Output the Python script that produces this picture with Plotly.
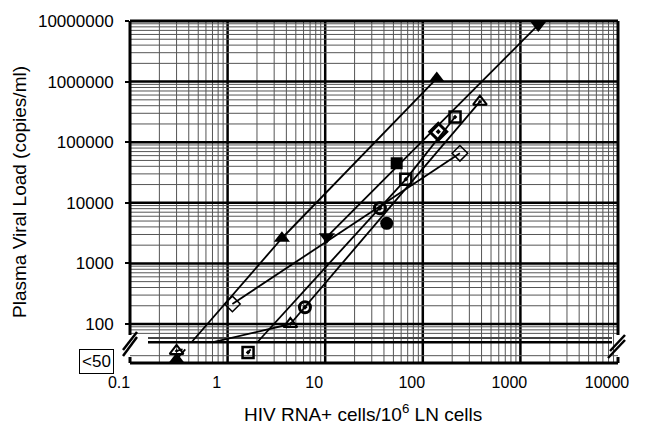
import numpy as np
import plotly.graph_objects as go

# ---------------- data ----------------
tri_up_filled_x = [0.3, 3.6, 139]
tri_up_filled_y = [26, 2600, 1130000]

tri_up_open_x = [0.3, 4.4, 385]
tri_up_open_y = [36, 100, 466000]

diamond_x = [1.12, 240]
diamond_y = [214, 65600]

diamond_dot_x = [144]
diamond_dot_y = [149000]

tri_down_x = [10.4, 1525]
tri_down_y = [2750, 8600000]

square_open_x = [1.62, 67, 214]
square_open_y = [34, 24400, 260000]

circle_open_x = [6.2, 36.4]
circle_open_y = [189, 8110]

square_filled_x = [54]
square_filled_y = [44900]

circle_filled_x = [42.7]
circle_filled_y = [4590]

x_tick_vals = [0.1, 1, 10, 100, 1000, 10000]
x_tick_text = ["0.1", "1", "10", "100", "1000", "10000"]
y_tick_vals = [100, 1000, 10000, 100000, 1000000, 10000000]
y_tick_text = ["100", "1000", "10000", "100000", "1000000", "10000000"]
below_label = "<50"
x_title = "HIV RNA+ cells/10<sup>6</sup> LN cells"
y_title = "Plasma Viral Load (copies/ml)"

# axis break band (values)
band_lo, band_hi = 38, 50
break_line2 = 58.7

# ---------------- helpers ----------------
W, H = 645, 427
ML, MR, MT, MB = 100, 20, 21, 64
PW, PH = W - ML - MR, H - MT - MB
X_LOG_RANGE = [-1, 4]
Y_LOG_RANGE = [1.3564, 7]


def px_x(p):
    return (p - ML) / PW


def px_y(p):
    return (H - MB - p) / PH


def clip_band(xs, ys):
    """Connect points, leaving out the part that falls inside the axis break band."""
    lx, ly = [], []
    blo, bhi = np.log10(band_lo), np.log10(band_hi)
    for i in range(len(xs) - 1):
        x0, y0 = np.log10(xs[i]), np.log10(ys[i])
        x1, y1 = np.log10(xs[i + 1]), np.log10(ys[i + 1])
        lo, hi = min(y0, y1), max(y0, y1)
        if lo < bhi and hi > blo and y1 != y0:
            ta = float(np.clip((blo - y0) / (y1 - y0), 0, 1))
            tb = float(np.clip((bhi - y0) / (y1 - y0), 0, 1))
            ta, tb = sorted([ta, tb])
            pa = (x0 + ta * (x1 - x0), y0 + ta * (y1 - y0))
            pb = (x0 + tb * (x1 - x0), y0 + tb * (y1 - y0))
            if ta > 0:
                lx += [10 ** x0, 10 ** pa[0], None]
                ly += [10 ** y0, 10 ** pa[1], None]
            if tb < 1:
                lx += [10 ** pb[0], 10 ** x1, None]
                ly += [10 ** pb[1], 10 ** y1, None]
        else:
            lx += [10 ** x0, 10 ** x1, None]
            ly += [10 ** y0, 10 ** y1, None]
    return lx, ly


fig = go.Figure()

line_series = [
    (tri_up_filled_x, tri_up_filled_y),
    (tri_up_open_x, tri_up_open_y),
    (diamond_x, diamond_y),
    (tri_down_x, tri_down_y),
    (square_open_x, square_open_y),
]
for xs, ys in line_series:
    lx, ly = clip_band(xs, ys)
    fig.add_trace(go.Scatter(x=lx, y=ly, mode="lines",
                             line=dict(color="black", width=1.8),
                             showlegend=False, hoverinfo="skip"))

marker_series = [
    (tri_up_filled_x, tri_up_filled_y, dict(symbol="triangle-up", size=14, color="black")),
    (tri_up_open_x, tri_up_open_y, dict(symbol="triangle-up-open-dot", size=12, color="black",
                                         line=dict(width=2, color="black"))),
    (diamond_x, diamond_y, dict(symbol="diamond-open", size=12, color="black",
                                line=dict(width=1.5, color="black"))),
    (diamond_dot_x, diamond_dot_y, dict(symbol="diamond-open-dot", size=13, color="black",
                                        line=dict(width=3, color="black"))),
    (tri_down_x, tri_down_y, dict(symbol="triangle-down", size=14, color="black")),
    (square_open_x, square_open_y, dict(symbol="square-open-dot", size=11, color="black",
                                        line=dict(width=2.5, color="black"))),
    (circle_open_x, circle_open_y, dict(symbol="circle-open-dot", size=11, color="black",
                                        line=dict(width=3, color="black"))),
    (square_filled_x, square_filled_y, dict(symbol="square", size=12, color="black")),
    (circle_filled_x, circle_filled_y, dict(symbol="circle", size=13, color="black")),
]
for xs, ys, mk in marker_series:
    fig.add_trace(go.Scatter(x=xs, y=ys, mode="markers", marker=mk,
                             showlegend=False, hoverinfo="skip"))

font_family = "Arial, Liberation Sans, sans-serif"

fig.update_layout(
    width=W, height=H,
    margin=dict(l=ML, r=MR, t=MT, b=MB, autoexpand=False),
    paper_bgcolor="white", plot_bgcolor="white",
    font=dict(family=font_family, color="black"),
    xaxis=dict(type="log", range=X_LOG_RANGE, domain=[px_x(130), px_x(618)],
               tickvals=x_tick_vals, ticktext=x_tick_text, ticks="",
               tickfont=dict(size=16, family=font_family), ticklabelstandoff=8,
               ticklabelshift=-11,
               showgrid=False, showline=False, zeroline=False, automargin=False),
    yaxis=dict(type="log", range=Y_LOG_RANGE, domain=[0, 1],
               tickvals=y_tick_vals, ticktext=y_tick_text,
               ticks="outside", ticklen=4, tickwidth=1.5, tickcolor="black",
               tickfont=dict(size=17, family=font_family), ticklabelstandoff=8,
               showgrid=False, showline=False, zeroline=False, automargin=False),
)

shapes = []
# ---- grid (major thick, minor thin), below traces; shape coords are data values ----
for d in range(int(X_LOG_RANGE[0]), int(X_LOG_RANGE[1])):
    for k in range(1, 10):
        lv = d + np.log10(k)
        if lv <= X_LOG_RANGE[0] or lv >= X_LOG_RANGE[1]:
            continue
        major = (k == 1)
        v = float(10 ** lv)
        shapes.append(dict(type="line", xref="x", yref="paper", x0=v, x1=v, y0=0, y1=1,
                           line=dict(color="black" if major else "#555",
                                     width=2.5 if major else 1), layer="below"))
for d in range(1, 7):
    for k in range(1, 10):
        lv = d + np.log10(k)
        if lv <= Y_LOG_RANGE[0] or lv >= Y_LOG_RANGE[1]:
            continue
        if np.log10(band_lo) < lv < np.log10(break_line2) + 0.02:
            continue
        major = (k == 1)
        v = float(10 ** lv)
        shapes.append(dict(type="line", xref="paper", yref="y",
                           x0=px_x(130), x1=px_x(618), y0=v, y1=v,
                           line=dict(color="black" if major else "#555",
                                     width=2.5 if major else 1), layer="below"))

lw = 3
x_l, x_r = px_x(130), px_x(618)
# frame with gaps at the break
shapes.append(dict(type="line", xref="paper", yref="paper", x0=x_l, x1=x_r, y0=1, y1=1,
                   line=dict(color="black", width=lw)))
shapes.append(dict(type="line", xref="paper", yref="paper", x0=x_l, x1=x_r, y0=0, y1=0,
                   line=dict(color="black", width=lw)))
for xx in (x_l, x_r):
    shapes.append(dict(type="line", xref="paper", yref="paper", x0=xx, x1=xx,
                       y0=1, y1=px_y(335), line=dict(color="black", width=lw)))
    shapes.append(dict(type="line", xref="paper", yref="paper", x0=xx, x1=xx,
                       y0=px_y(357), y1=0, line=dict(color="black", width=lw)))
# break lines across the plot
shapes.append(dict(type="line", xref="paper", yref="y", x0=px_x(148), x1=px_x(612),
                   y0=band_hi, y1=band_hi,
                   line=dict(color="black", width=2.5), layer="below"))
shapes.append(dict(type="line", xref="paper", yref="y", x0=px_x(148), x1=px_x(612),
                   y0=break_line2, y1=break_line2,
                   line=dict(color="#444", width=2), layer="below"))
# break marks "//"
for (xa, ya, xb, yb) in [(123, 356, 137, 337), (123, 350, 137, 332),
                         (608, 358, 625, 340), (610, 351, 625, 335)]:
    shapes.append(dict(type="line", xref="paper", yref="paper",
                       x0=px_x(xa), y0=px_y(ya), x1=px_x(xb), y1=px_y(yb),
                       line=dict(color="black", width=2.5)))
fig.update_layout(shapes=shapes)

annotations = [
    dict(text=below_label, xref="paper", yref="paper", x=px_x(96), y=px_y(361),
         showarrow=False, xanchor="center", yanchor="middle",
         font=dict(size=17, family=font_family), bordercolor="black", borderwidth=1,
         borderpad=2, bgcolor="white"),
    dict(text=y_title, xref="paper", yref="paper", x=px_x(19), y=px_y(192),
         showarrow=False, textangle=-90, xanchor="center", yanchor="middle",
         font=dict(size=19, family=font_family)),
    dict(text=x_title, xref="paper", yref="paper", x=px_x(363), y=px_y(413),
         showarrow=False, xanchor="center", yanchor="middle",
         font=dict(size=19, family=font_family)),
]
fig.update_layout(annotations=annotations)

fig.write_html("out.html", config=dict(displayModeBar=False),
               post_script="document.body.style.margin='0';")
